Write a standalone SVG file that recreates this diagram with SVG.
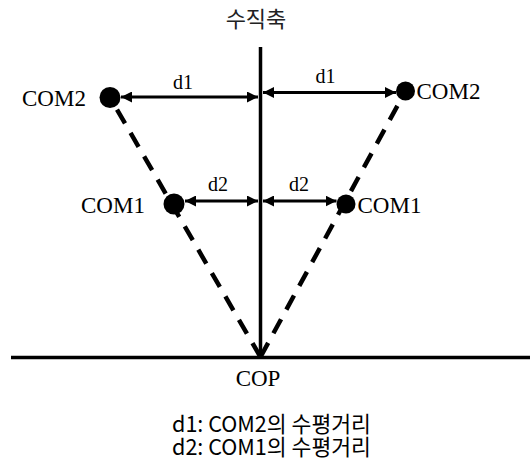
<svg xmlns="http://www.w3.org/2000/svg" width="530" height="462" viewBox="0 0 530 462">
<style>
.serif{font-family:"Liberation Serif","Times New Roman",serif;fill:#000}
.com{font-size:23px}
.d{font-size:20px;text-anchor:middle}
.kr{font-family:"Noto Sans CJK KR",sans-serif}
.axis{stroke:#000;stroke-width:3.5;fill:none}
.dash{stroke:#000;stroke-width:4.5;fill:none;stroke-dasharray:16 11}
.dim{stroke:#000;stroke-width:3;fill:none;marker-start:url(#ah);marker-end:url(#ah)}
.pt{fill:#000}
</style>
<defs>
<marker id="ah" viewBox="0 0 10 10" refX="10" refY="5" markerWidth="11" markerHeight="11" markerUnits="userSpaceOnUse" orient="auto-start-reverse">
<path d="M0,0 L10,5 L0,10 Z" fill="#000"/>
</marker>
</defs>
<g id="axes">
<line class="axis" x1="260.5" y1="47" x2="260.5" y2="357"/>
<line class="axis" x1="11" y1="357.5" x2="530" y2="357.5" stroke-width="4"/>
<text class="kr" x="256" y="27" font-size="22" text-anchor="middle" fill="#222">수직축</text>
<text class="serif com" x="258" y="385.5" text-anchor="middle">COP</text>
</g>
<g id="connectors">
<path class="dash" d="M260.5,357 L110,97.5"/>
<path class="dash" d="M260.5,357 L405.5,91"/>
<line class="dim" x1="121" y1="97" x2="258" y2="97"/>
<line class="dim" x1="263" y1="92.5" x2="396" y2="92.5"/>
<line class="dim" x1="185" y1="201" x2="258" y2="201"/>
<line class="dim" x1="263" y1="201" x2="336.5" y2="201"/>
<text class="serif d" x="183" y="89">d1</text>
<text class="serif d" x="325.5" y="82.5">d1</text>
<text class="serif d" x="218" y="190.5">d2</text>
<text class="serif d" x="299" y="190.5">d2</text>
</g>
<g id="com2-left">
<circle class="pt" cx="110" cy="97.5" r="10.5"/>
<text class="serif com" x="22" y="105.5">COM2</text>
</g>
<g id="com2-right">
<circle class="pt" cx="405.5" cy="91" r="9.5"/>
<text class="serif com" x="416.5" y="99">COM2</text>
</g>
<g id="com1-left">
<circle class="pt" cx="174" cy="204" r="10.5"/>
<text class="serif com" x="81" y="213">COM1</text>
</g>
<g id="com1-right">
<circle class="pt" cx="346" cy="204" r="9.5"/>
<text class="serif com" x="357.5" y="213">COM1</text>
</g>
<g id="legend">
<text class="kr" x="172" y="431.5" font-size="22" textLength="199" lengthAdjust="spacingAndGlyphs">d1: COM2의 수평거리</text>
<text class="kr" x="172" y="455" font-size="22" textLength="199" lengthAdjust="spacingAndGlyphs">d2: COM1의 수평거리</text>
</g>
</svg>
